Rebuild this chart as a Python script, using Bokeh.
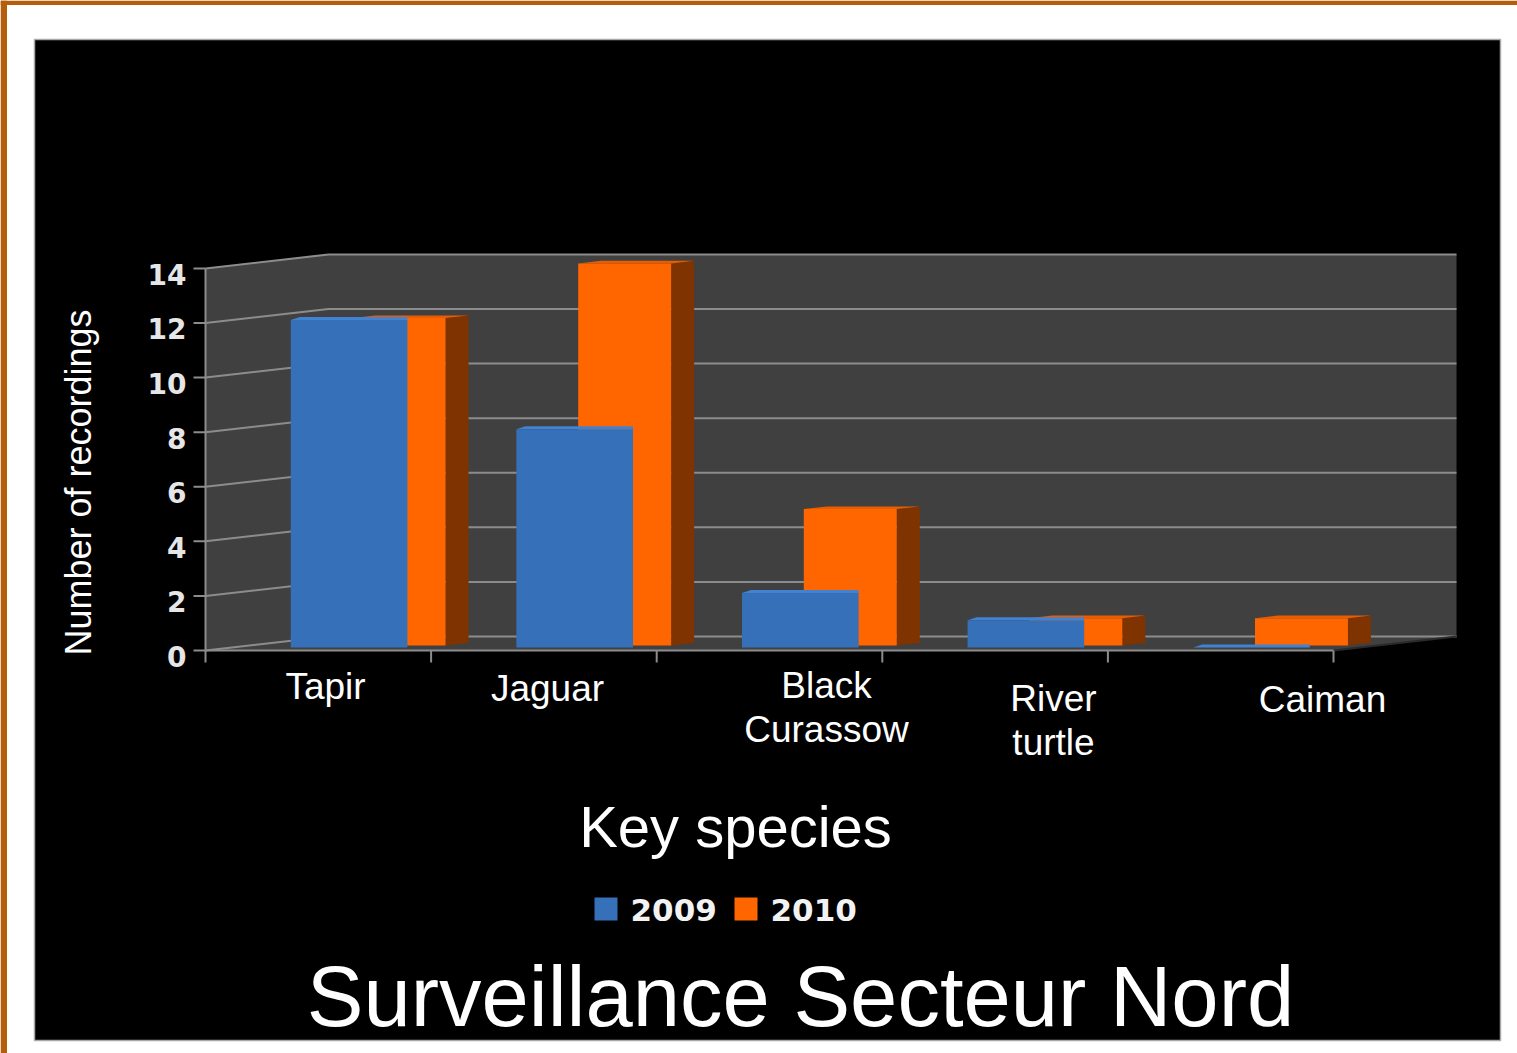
from bokeh.plotting import figure
from bokeh.models import Range1d
from bokeh.embed import file_html
from bokeh.resources import INLINE
from bokeh.core.properties import value
import math

# ---------------- data ----------------
categories = ["Tapir", "Jaguar", "Black\nCurassow", "River\nturtle", "Caiman"]
rec_2009 = [12, 8, 2, 1, 0]
rec_2010 = [12, 14, 5, 1, 1]
y_ticks = [0, 2, 4, 6, 8, 10, 12, 14]
series_names = ["2009", "2010"]
y_title = "Number of recordings"
x_title = "Key species"
main_title = "Surveillance Secteur Nord"

# ---------------- layout (page pixels) ----------------
W, H = 1517, 1053
OX, OY = 205.0, 650.0          # front origin of the 3-D plot area
CW, VH = 225.6, 27.29          # px per category / px per unit
TS = 0.38                      # svg baseline correction (fraction of font size)


def X(px):
    return (px - OX) / CW


def Y(py):
    return (OY - py) / VH


BLUE = "#3570b8"
BLUE_TOP = "#4282d2"
ORANGE = "#ff6600"
ORANGE_TOP = "#e85d00"
ORANGE_SIDE = "#7f3300"
WALL = "#404040"
GRID = "#8c8c8c"
FRAME = "#b55d0b"

p = figure(width=W, height=H,
           x_range=Range1d(X(0), X(W)), y_range=Range1d(Y(H), Y(0)),
           output_backend="svg", toolbar_location=None, min_border=0,
           x_axis_location=None, y_axis_location=None,
           outline_line_color=None, background_fill_color="white",
           border_fill_color="white")
p.xgrid.visible = False
p.ygrid.visible = False

# slide frame (orange rule top and left)
p.quad(left=[X(0), X(0)], right=[X(W), X(6.5)], bottom=[Y(4.5), Y(H)],
       top=[Y(0), Y(0)], fill_color=FRAME, line_color=None)

# black slide panel
p.quad(left=X(34), right=X(1500), bottom=Y(1040), top=Y(39),
       fill_color="black", line_color="#a8a8a8", line_width=1.5)

n = len(categories)
top = y_ticks[-1]
DX, DY = 123 / CW, 14 / VH

# walls + floor
p.patch([0, n, n + DX, n + DX, DX, 0], [0, 0, DY, top + DY, top + DY, top],
        fill_color=WALL, line_color=None)

# gridlines on side and back wall
p.multi_line([[0, DX, n + DX] for t in y_ticks],
             [[t, t + DY, t + DY] for t in y_ticks],
             line_color=GRID, line_width=2)
# floor edge, axis line, ticks
p.multi_line([[0, n], [0, 0], [n, n + DX]], [[0, 0], [0, top], [0, DY]],
             line_color=[GRID, GRID, "#2a2a2a"], line_width=2)
p.multi_line([[-12 / CW, 0] for t in y_ticks], [[t, t] for t in y_ticks],
             line_color=GRID, line_width=2)
p.multi_line([[k, k] for k in range(n + 1)], [[0, -12 / VH] for k in range(n + 1)],
             line_color=GRID, line_width=2)

# ---- 2010 series (back row) ----
ob = 5 / VH
ox0, ox1 = 0.652, 1.064
sdx, sdy = 23 / CW, 2.6 / VH
p.patches([[i + ox1, i + ox1 + sdx, i + ox1 + sdx, i + ox1] for i in range(n)],
          [[ob, ob + sdy, ob + v + sdy, ob + v] for v in rec_2010],
          fill_color=ORANGE_SIDE, line_color=None)
p.patches([[i + ox0, i + ox1, i + ox1 + sdx, i + ox0 + sdx] for i in range(n)],
          [[ob + v, ob + v, ob + v + sdy, ob + v + sdy] for v in rec_2010],
          fill_color=ORANGE_TOP, line_color=None)
p.quad(left=[i + ox0 for i in range(n)], right=[i + ox1 for i in range(n)],
       bottom=ob, top=[ob + v for v in rec_2010],
       fill_color=ORANGE, line_color=None)

# ---- 2009 series (front row) ----
bb = 3 / VH
bx0, bx1 = 0.378, 0.895
p.patches([[i + bx0, i + bx0 + 0.04, i + bx1, i + bx1] for i in range(n)],
          [[bb + v, bb + v + 0.11, bb + v + 0.11, bb + v] for v in rec_2009],
          fill_color=BLUE_TOP, line_color=None)
p.quad(left=[i + bx0 for i in range(n)], right=[i + bx1 for i in range(n)],
       bottom=bb, top=[bb + v for v in rec_2009],
       fill_color=BLUE, line_color=None)


def base_y(py, size):
    """alphabetic baseline at page y py for a text of the given px size"""
    return Y(py - TS * size)


# ---- y tick labels ----
p.text(x=[X(186)] * len(y_ticks), y=[t - (16.5 - TS * 28) / VH for t in y_ticks],
       text=[str(t) for t in y_ticks], text_align="right",
       text_baseline="alphabetic", text_font=value("DejaVu Sans"),
       text_font_style="bold", text_font_size="28px", text_color="#e6e6e6")

# ---- category labels ----
label_cx = [325, 547, 826, 1053, 1322]
label_base = [700, 702, 699, 712, 713]
lx, ly, lt = [], [], []
for c, cx, by in zip(categories, label_cx, label_base):
    for k, line in enumerate(c.split("\n")):
        lx.append(X(cx))
        ly.append(base_y(by + 44 * k, 37))
        lt.append(line)
p.text(x=lx, y=ly, text=lt, text_align="center", text_baseline="alphabetic",
       text_font=value("Liberation Sans"), text_font_size="37px",
       text_color="white")

# ---- axis titles ----
p.text(x=[X(92 - TS * 36)], y=[Y(482)], text=[y_title], angle=math.pi / 2,
       text_align="center", text_baseline="alphabetic",
       text_font=value("Liberation Sans"), text_font_size="36px",
       text_color="white")
p.text(x=[X(735)], y=[base_y(848, 58)], text=[x_title], text_align="center",
       text_baseline="alphabetic", text_font=value("Liberation Sans"),
       text_font_size="58px", text_color="white")

# ---- legend ----
sq_left = [594, 734]
p.quad(left=[X(v) for v in sq_left], right=[X(v + 23) for v in sq_left],
       bottom=Y(920), top=Y(897), fill_color=[BLUE, ORANGE], line_color=None)
p.text(x=[X(v + 36) for v in sq_left], y=[base_y(921, 31)] * 2, text=series_names,
       text_align="left", text_baseline="alphabetic",
       text_font=value("DejaVu Sans"), text_font_style="bold",
       text_font_size="31px", text_color="#f2f2f2")

# ---- slide title ----
p.text(x=[X(800)], y=[base_y(1028, 85)], text=[main_title], text_align="center",
       text_baseline="alphabetic", text_font=value("Liberation Sans"),
       text_font_size="85px", text_color="white")

open("out.html", "w").write(file_html(p, INLINE))
